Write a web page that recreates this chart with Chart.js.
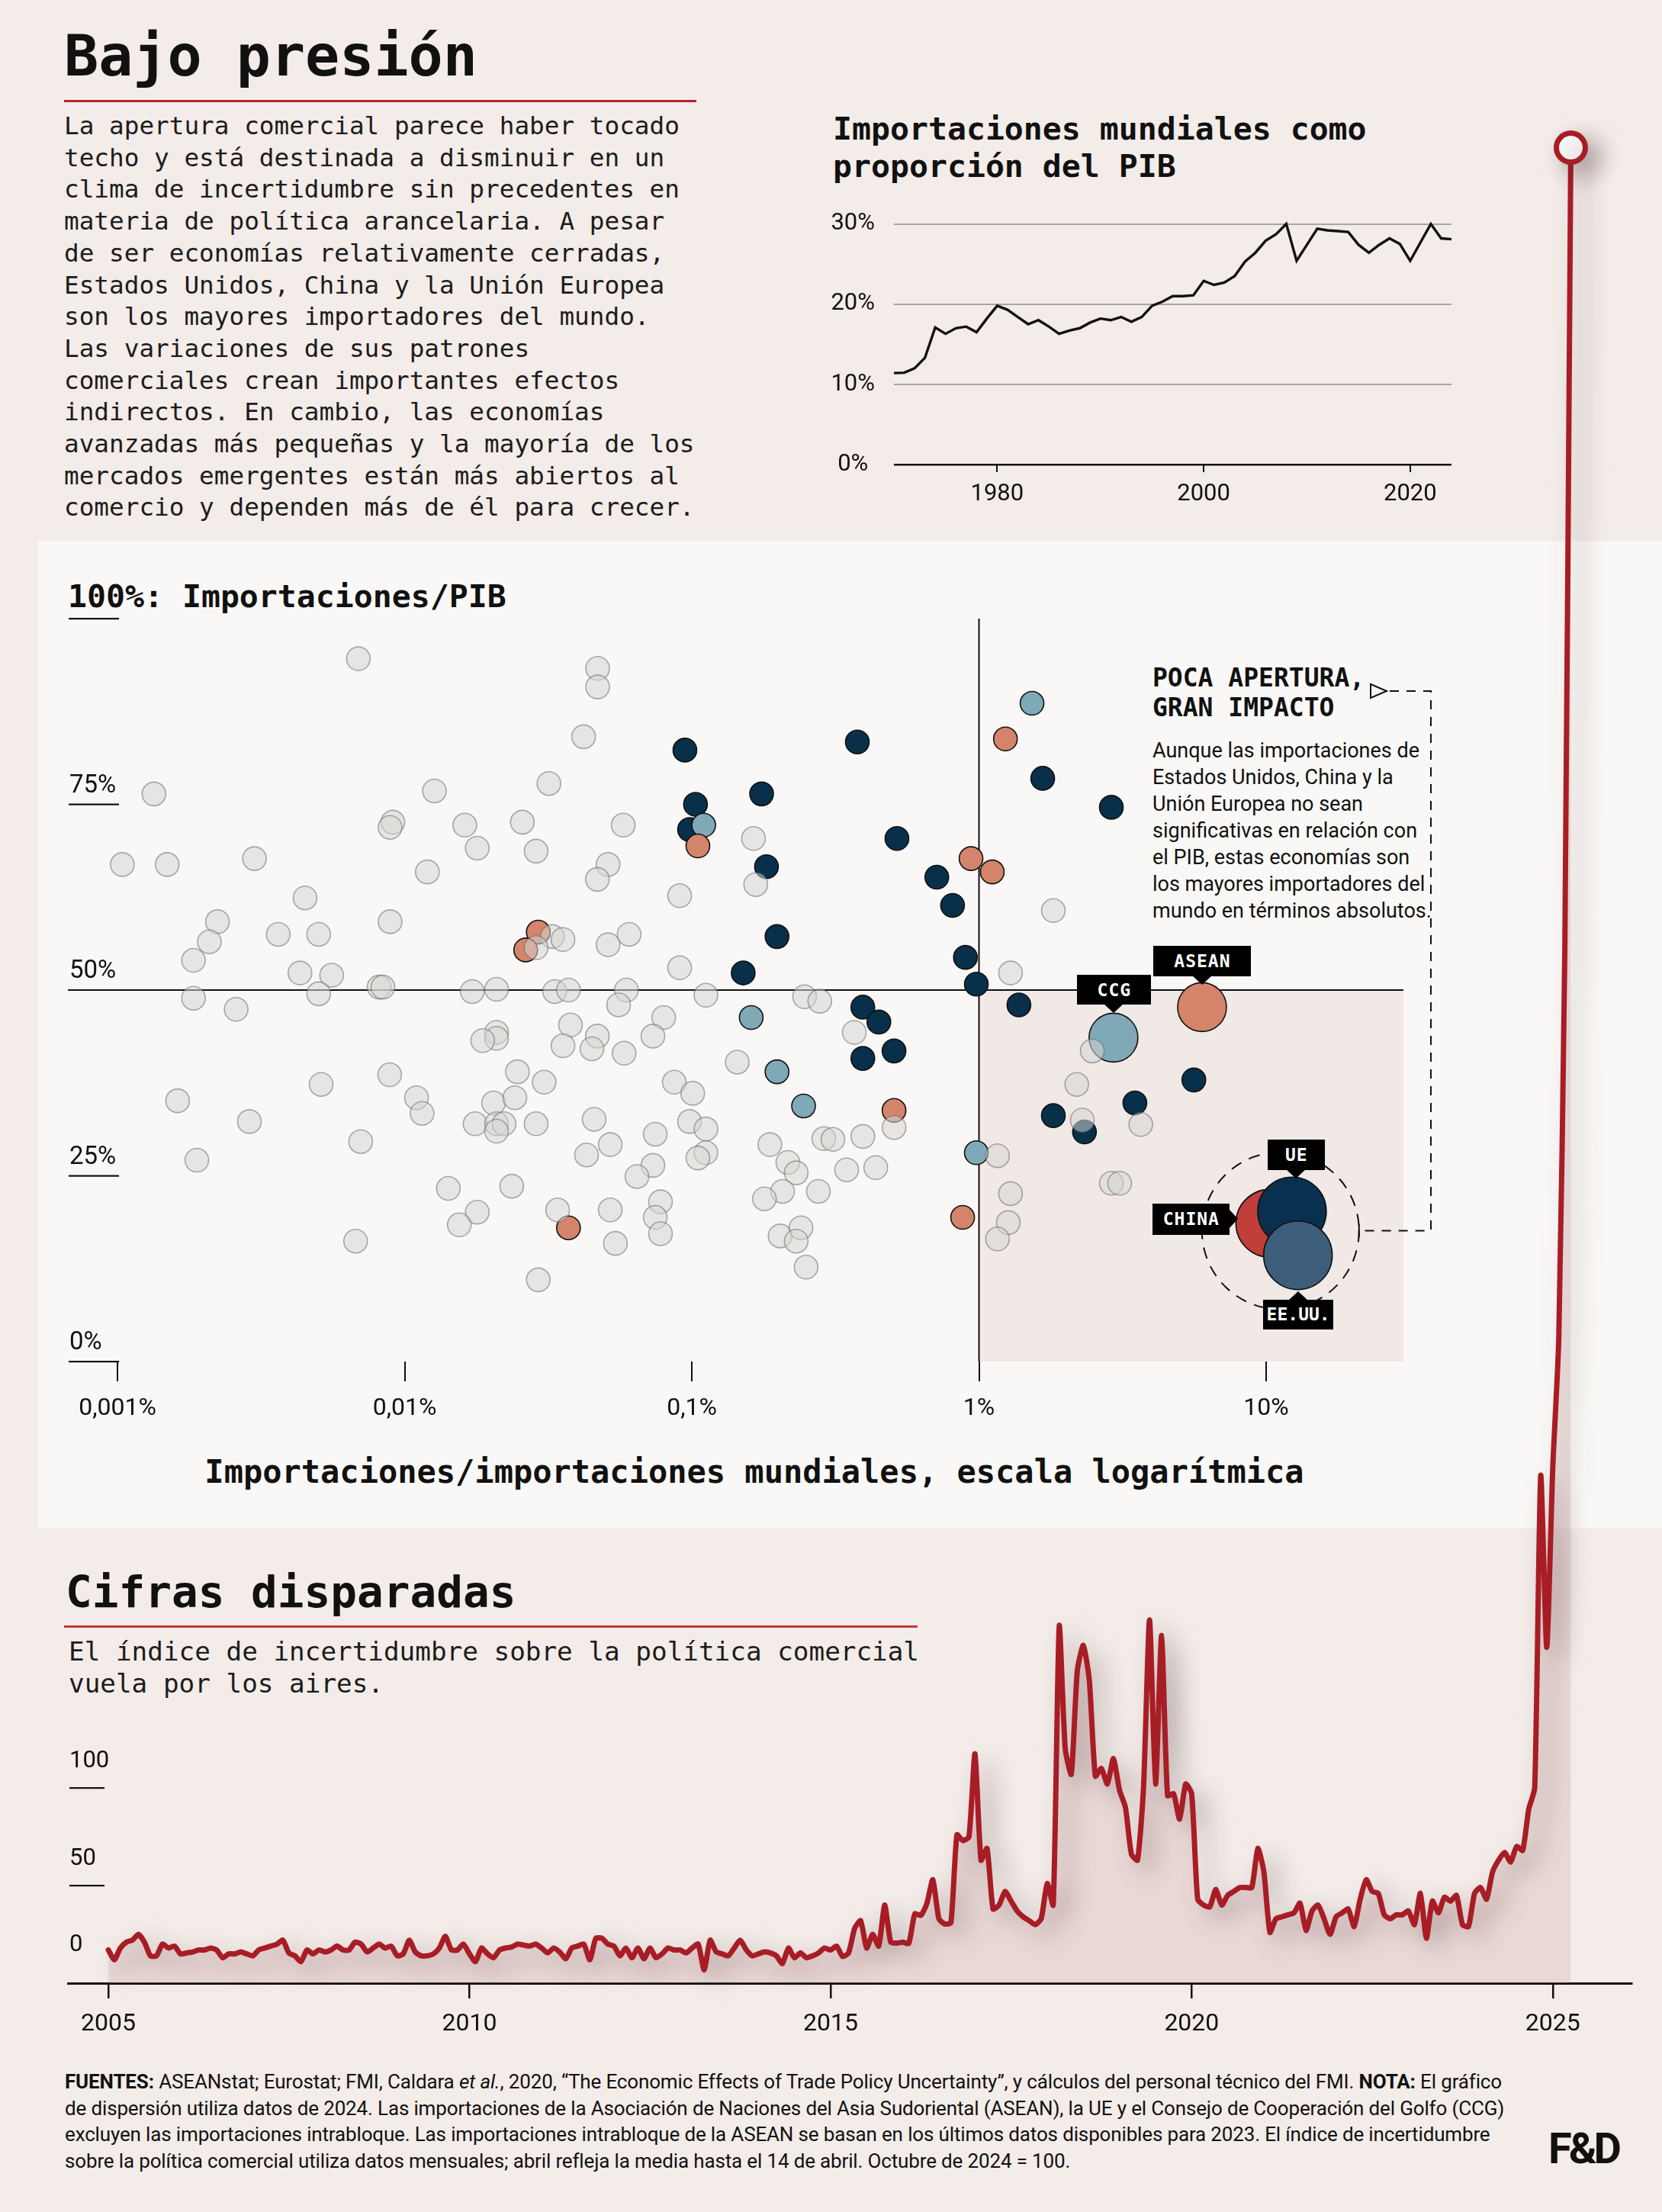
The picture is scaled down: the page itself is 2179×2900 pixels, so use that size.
<!DOCTYPE html>
<html lang="es">
<head>
<meta charset="utf-8">
<title>Bajo presión</title>
<script src="https://cdn.jsdelivr.net/npm/chart.js@4.4.1/dist/chart.umd.min.js"></script>
<style>
html,body{margin:0;padding:0;}
body{width:2179px;height:2900px;position:relative;overflow:hidden;background:#f3ece9;color:#111;font-family:'DejaVu Sans Mono',monospace;}
.abs{position:absolute;white-space:nowrap;}
#panel{left:50px;top:709px;width:2129px;height:1295px;background:#faf8f6;}
#title{left:84px;top:36px;font:bold 75px/75px 'DejaVu Sans Mono',monospace;}
#titleRule{left:84px;top:131px;width:829px;height:3px;background:#b3262b;}
#intro{left:84px;top:145px;font:32.7px/41.7px 'DejaVu Sans Mono',monospace;color:#1c1c1c;}
#lineTitle{left:1092px;top:145px;font:bold 41.5px/48.7px 'DejaVu Sans Mono',monospace;}
#scTitle{left:89px;top:757px;font:bold 41.5px/50px 'DejaVu Sans Mono',monospace;}
#annHead{left:1511px;top:869px;font:bold 33px/39.3px 'DejaVu Sans Mono',monospace;}
#annBody{left:1511px;top:967px;font:27px/35px Roboto,sans-serif;color:#111;}
#xTitle{left:0;width:1978px;top:1905px;text-align:center;font:bold 42px/50px 'DejaVu Sans Mono',monospace;}
#cifras{left:86px;top:2057px;font:bold 57.7px/60px 'DejaVu Sans Mono',monospace;}
#cifrasRule{left:84px;top:2131px;width:1119px;height:3px;background:#c0383c;}
#sub{left:90px;top:2144px;font:34.3px/42.4px 'DejaVu Sans Mono',monospace;color:#1c1c1c;}
#notes{left:85px;top:2712px;font:26px/34.7px Roboto,sans-serif;color:#111;letter-spacing:-0.15px;}
#fd{left:2030px;top:2787px;font:bold 56px/60px Roboto,sans-serif;letter-spacing:-4px;}
canvas{position:absolute;}
#scatter{left:0;top:700px;z-index:2;}
#lineTop{left:1066px;top:250px;z-index:2;}
#tpu{left:0;top:0;z-index:5;pointer-events:none;}
.tag{position:absolute;z-index:3;background:#000;color:#fff;font:bold 23px 'DejaVu Sans Mono',monospace;letter-spacing:1px;display:flex;align-items:center;justify-content:center;padding-left:1px;box-sizing:border-box;}
.tag::after{content:'';position:absolute;width:0;height:0;}
.tag.down::after{left:50%;bottom:-11px;transform:translateX(-50%);border-left:13px solid transparent;border-right:13px solid transparent;border-top:12px solid #000;}
.tag.up::after{left:50%;top:-11px;transform:translateX(-50%);border-left:13px solid transparent;border-right:13px solid transparent;border-bottom:12px solid #000;}
.tag.right::after{right:-11px;top:50%;transform:translateY(-50%);border-top:13px solid transparent;border-bottom:13px solid transparent;border-left:12px solid #000;}
</style>
</head>
<body>
<div id="panel" class="abs"></div>
<div id="title" class="abs">Bajo presión</div>
<div id="titleRule" class="abs"></div>
<div id="intro" class="abs">La apertura comercial parece haber tocado<br>techo y está destinada a disminuir en un<br>clima de incertidumbre sin precedentes en<br>materia de política arancelaria. A pesar<br>de ser economías relativamente cerradas,<br>Estados Unidos, China y la Unión Europea<br>son los mayores importadores del mundo.<br>Las variaciones de sus patrones<br>comerciales crean importantes efectos<br>indirectos. En cambio, las economías<br>avanzadas más pequeñas y la mayoría de los<br>mercados emergentes están más abiertos al<br>comercio y dependen más de él para crecer.</div>
<div id="lineTitle" class="abs">Importaciones mundiales como<br>proporción del PIB</div>
<div id="scTitle" class="abs">100%: Importaciones/PIB</div>
<div id="annHead" class="abs">POCA APERTURA,<br>GRAN IMPACTO</div>
<div id="annBody" class="abs">Aunque las importaciones de<br>Estados Unidos, China y la<br>Unión Europea no sean<br>significativas en relación con<br>el PIB, estas economías son<br>los mayores importadores del<br>mundo en términos absolutos.</div>
<div id="xTitle" class="abs">Importaciones/importaciones mundiales, escala logarítmica</div>
<div id="cifras" class="abs">Cifras disparadas</div>
<div id="cifrasRule" class="abs"></div>
<div id="sub" class="abs">El índice de incertidumbre sobre la política comercial<br>vuela por los aires.</div>
<div id="notes" class="abs"><b>FUENTES:</b> ASEANstat; Eurostat; FMI, Caldara <i>et al.</i>, 2020, “The Economic Effects of Trade Policy Uncertainty”, y cálculos del personal técnico del FMI. <b>NOTA:</b> El gráfico<br>de dispersión utiliza datos de 2024. Las importaciones de la Asociación de Naciones del Asia Sudoriental (ASEAN), la UE y el Consejo de Cooperación del Golfo (CCG)<br>excluyen las importaciones intrabloque. Las importaciones intrabloque de la ASEAN se basan en los últimos datos disponibles para 2023. El índice de incertidumbre<br>sobre la política comercial utiliza datos mensuales; abril refleja la media hasta el 14 de abril. Octubre de 2024 = 100.</div>
<div id="fd" class="abs">F&amp;D</div>

<canvas id="lineTop" width="860" height="430"></canvas>
<canvas id="scatter" width="2179" height="1310"></canvas>
<canvas id="tpu" width="2179" height="2700"></canvas>

<script>
// ================= DATA =================
// Top chart: world imports as % of GDP, annual
const importStartYear = 1970;
const importShare = [
  11.4, 11.45, 12.0, 13.3, 17.1, 16.3, 17.0, 17.2, 16.5, 18.2,
  19.8, 19.3, 18.4, 17.5, 18.0, 17.2, 16.3, 16.7, 17.0, 17.7,
  18.2, 18.0, 18.4, 17.8, 18.4, 19.8, 20.3, 21.0, 21.0, 21.1,
  22.9, 22.4, 22.7, 23.5, 25.3, 26.4, 27.9, 28.7, 30.0, 25.4,
  27.4, 29.4, 29.2, 29.1, 29.0, 27.4, 26.4, 27.4, 28.2, 27.5,
  25.4, 27.7, 30.0, 28.2, 28.1
];
const importXTicks = [1980, 2000, 2020];
const importYTicks = [0, 10, 20, 30];

// Scatter: [imports / world imports (%), imports / GDP (%)]
const otherEconomies = [
  [0.0069,94.6],[0.047,93.3],[0.047,90.8],[0.042,84.1],[0.00134,76.4],[0.0127,76.8],[0.0091,72.6],[0.0089,71.9],
  [0.0318,77.8],[0.00104,66.9],[0.00149,66.9],[0.0030,67.7],[0.0120,65.9],[0.0162,72.2],[0.0257,72.6],[0.0577,72.2],
  [0.0179,69.1],[0.0287,68.7],[0.164,70.4],[0.0511,66.9],[0.0469,64.9],[0.167,64.2],[0.0907,62.7],[0.0045,62.4],
  [0.00223,59.2],[0.00209,56.5],[0.00184,54.0],[0.00363,57.5],[0.00502,57.5],[0.0089,59.2],[0.00432,52.3],[0.00557,52.0],
  [0.00815,50.4],[0.0084,50.4],[0.0327,57.2],[0.0356,56.8],[0.0287,55.7],[0.0511,56.1],[0.0605,57.5],[0.0907,53.0],
  [1.815,60.7],[1.288,52.3],[0.00184,48.9],[0.00259,47.4],[0.00502,49.5],[0.0172,49.8],[0.0209,50.1],[0.0333,49.8],
  [0.0372,50.0],[0.0592,50.0],[0.0556,48.0],[0.112,49.3],[0.247,49.1],[0.279,48.5],[0.0798,46.3],[0.0732,43.8],
  [0.0378,45.3],[0.0469,43.8],[0.0449,42.1],[0.0356,42.5],[0.0209,44.3],[0.0209,43.5],[0.0187,43.2],[0.0581,41.5],
  [0.144,40.3],[0.0247,39.0],[0.0306,37.6],[0.0869,37.6],[0.1007,36.1],[0.0204,34.8],[0.0242,35.5],[0.0176,32.0],
  [0.0209,32.0],[0.0222,32.0],[0.0209,31.0],[0.0287,32.0],[0.0457,32.6],[0.0982,32.3],[0.112,31.3],[0.0746,30.6],
  [0.052,29.2],[0.043,27.8],[0.112,28.1],[0.105,27.4],[0.187,29.2],[0.288,30.0],[0.0732,26.4],[0.0644,24.9],
  [0.216,26.8],[0.231,25.4],[0.207,22.9],[0.179,21.9],[0.276,22.9],[0.0142,23.3],[0.0236,23.6],[0.0179,20.1],
  [0.0155,18.4],[0.0341,20.4],[0.052,20.4],[0.0778,21.5],[0.0746,19.4],[0.0778,17.2],[0.0542,15.9],[0.203,16.9],
  [0.240,18.0],[0.231,16.2],[0.250,12.7],[0.0292,11.0],[0.00162,35.1],[0.00512,37.3],[0.00887,38.6],[0.0110,35.5],
  [0.0115,33.4],[0.00288,32.3],[0.00703,29.6],[0.00189,27.1],[0.00675,16.2],[0.310,29.9],[0.394,30.3],[0.368,44.3],
  [0.506,31.5],[0.346,25.8],[0.437,26.1],[1.16,27.7],[2.89,24.0],[3.09,24.0],[1.288,22.6],[1.265,18.7],
  [1.16,16.5],[2.48,41.8],[2.19,37.3],[2.29,32.5],[3.66,31.9]
];
const orangeEconomies = [
  [0.105,69.4],[0.0292,57.8],[0.0264,55.4],[1.236,83.8],[0.938,67.7],[1.112,65.9],[0.506,33.8],[0.0372,18.0],[0.877,19.4]
];
const lightBlueEconomies = [
  [0.110,72.2],[1.53,88.6],[0.161,46.3],[0.198,39.0],[0.245,34.4],[0.979,28.1]
];
const darkBlueEconomies = [
  [0.0946,82.3],[0.103,75.0],[0.0982,71.6],[0.175,76.4],[0.182,66.6],[0.198,57.2],[0.151,52.3],[0.377,83.4],
  [1.667,78.5],[2.89,74.6],[0.518,70.4],[0.713,65.2],[0.809,61.4],[0.897,54.4],[0.979,50.8],[1.377,48.0],
  [0.394,47.7],[0.448,45.7],[0.506,41.8],[0.394,40.8],[5.60,37.9],[3.49,34.8],[1.815,33.1],[2.33,30.9]
];
const bigLabels = ['ASEAN', 'CCG', 'CHINA', 'UE', 'EE.UU.'];
const bigPoints = [[5.98,47.7],[2.94,43.6],[10.3,18.6],[12.3,20.2],[12.9,14.3]];
const scatterXTicks = [0.001, 0.01, 0.1, 1, 10];
const scatterYLabels = [100, 75, 50, 25, 0];

// Bottom chart: trade policy uncertainty index, monthly from Jan 2005 to Apr 2025 (Oct 2024 = 100)
const tpuStartYear = 2005;
const tpu2005to2014 = [
  17,12,18,21,22,25,21,14,14,20, 18,19,15,15.5,16,17,17,18,17,13,
  15,15,16,15,14,17,18,19,20,22, 15.5,14,11,17,15,17,16,17,19,17,
  17,21,20,16,18,20,18,19,14,15, 22,16,14,14,15,18,24,17,17,20,
  15,11,18,15,13,17,18,18.5,20,19.5, 19,20,18,15.5,18,16,12.5,18,19,20,
  12,23,23,20,19,14,18,13,18,12.5, 18,13,15,18,17,17,15.5,18,20,6.8,
  22,16,15,14,18,22,17,14,15,16, 15.5,14,10,18,13,15.5,13,14,15.5,18
];
const tpu2015to2025 = [
  17,19,13.7,15.5,28,32,18,25,19,40, 21,20.5,21,20.4,35.5,34.7,40.8,53,33,30.3,
  31,76,73,75,117.5,63,69,38,40,47, 42,37,34,32,30,33,51,40,183,120,
  107,160,173,155,106,110,102,115,99,90, 66,63,100,186,102,178,96,97,84,102,
  97,43,40,39,48,40,45,47,49,49, 49,69,57,26,33,34,35,36,41,27,
  37,40,33,25,34,36,38,29,43,53, 47,46,35,33,35,35,37,30,46,23,
  42,36,44,42,45,30,29,46,49,43, 57,63,67,62,70,68,89,100,260,172,
  264,330,528,940
];
const tpuXTicks = [2005, 2010, 2015, 2020, 2025];
const tpuYLabels = [100, 50, 0];

// ================= CHARTS =================
Chart.defaults.font.family = 'Roboto, sans-serif';
Chart.defaults.color = '#111';

// ---- Top line chart ----
new Chart(document.getElementById('lineTop'), {
  type: 'line',
  data: {
    datasets: [{
      data: importShare.map((v, i) => ({ x: importStartYear + i, y: v })),
      borderColor: '#111', borderWidth: 3.4, pointRadius: 0, tension: 0, fill: false, clip: false
    }]
  },
  options: {
    responsive: false, animation: false, events: [],
    layout: { padding: { top: 40.6, right: 23, bottom: 0, left: 0 } },
    plugins: { legend: { display: false }, tooltip: { enabled: false } },
    scales: {
      x: {
        type: 'linear', min: importStartYear, max: importStartYear + importShare.length - 1,
        afterBuildTicks: s => { s.ticks = importXTicks.map(v => ({ value: v })); },
        afterFit: s => { s.height = 71; },
        ticks: { callback: v => String(v), font: { size: 31 }, padding: 11, autoSkip: false, maxRotation: 0 },
        grid: { drawOnChartArea: false, drawTicks: true, tickLength: 10, color: '#111', lineWidth: 2 },
        border: { display: false }
      },
      y: {
        type: 'linear', min: 0, max: 30,
        afterBuildTicks: s => { s.ticks = importYTicks.map(v => ({ value: v })); },
        afterFit: s => { s.width = 106; },
        ticks: { callback: v => v + '%', font: { size: 31 }, crossAlign: 'center', padding: 25 },
        grid: { drawTicks: false, color: c => c.tick.value === 0 ? '#111' : '#a6a6a6', lineWidth: c => c.tick.value === 0 ? 2.5 : 2 },
        border: { display: false }
      }
    }
  }
});

// ---- Scatter ----
const SC_LEFT = 0, SC_TOP = 700;
const toXY = a => a.map(([x, y]) => ({ x, y }));
const scatterDecor = {
  id: 'scatterDecor',
  beforeDatasetsDraw(chart) {
    const { ctx, chartArea: a, scales: { x, y } } = chart;
    ctx.save();
    const x1 = x.getPixelForValue(1), y50 = y.getPixelForValue(50), y0 = y.getPixelForValue(0);
    ctx.fillStyle = '#f1e9e6';
    ctx.fillRect(x1, y50, a.right - x1, y0 - y50);
    ctx.fillStyle = '#111';
    ctx.fillRect(a.left, y50 - 1, a.right - a.left, 2);
    ctx.fillRect(x1 - 1, a.top, 2, a.bottom - a.top);
    ctx.font = '33px Roboto, sans-serif';
    ctx.textAlign = 'left'; ctx.textBaseline = 'alphabetic';
    scatterYLabels.forEach(v => {
      const py = y.getPixelForValue(v);
      if (v !== 100) ctx.fillText(v + '%', a.left + 2, py - 16);
      if (v !== 50) ctx.fillRect(a.left + 1, py - 1, 66, 2.2);
    });
    ctx.restore();
  },
  afterDatasetsDraw(chart) {
    const { ctx, scales: { x, y } } = chart;
    const big = [2, 3, 4].map(i => [x.getPixelForValue(bigPoints[i][0]), y.getPixelForValue(bigPoints[i][1])]);
    const cx = big.reduce((s, p) => s + p[0], 0) / 3 - 8;
    const cy = big.reduce((s, p) => s + p[1], 0) / 3 + 1;
    const r = 103;
    ctx.save();
    ctx.strokeStyle = '#111'; ctx.lineWidth = 2;
    ctx.setLineDash([15, 11]);
    ctx.beginPath(); ctx.arc(cx, cy, r, 0, Math.PI * 2); ctx.stroke();
    // connector from annotation
    const ty = 906 - SC_TOP, rx = 1876;
    ctx.setLineDash([12, 10]);
    ctx.beginPath();
    ctx.moveTo(1822, ty); ctx.lineTo(rx, ty); ctx.lineTo(rx, cy); ctx.lineTo(cx + r, cy);
    ctx.stroke();
    ctx.setLineDash([]);
    ctx.beginPath(); ctx.moveTo(cx + r, cy - 9); ctx.lineTo(cx + r, cy + 9); ctx.stroke();
    ctx.beginPath();
    ctx.moveTo(1797, ty - 9); ctx.lineTo(1818, ty); ctx.lineTo(1797, ty + 9); ctx.closePath();
    ctx.fillStyle = '#faf8f6'; ctx.fill(); ctx.stroke();
    ctx.restore();
  }
};

const scatterChart = new Chart(document.getElementById('scatter'), {
  type: 'scatter',
  data: {
    datasets: [
      { data: toXY(otherEconomies), pointRadius: 15.5, backgroundColor: 'rgba(214,213,212,0.55)', borderColor: 'rgba(105,105,105,0.55)', borderWidth: 1.6 },
      { data: toXY(orangeEconomies), pointRadius: 15.5, backgroundColor: '#d4846b', borderColor: '#111', borderWidth: 1.6 },
      { data: toXY(lightBlueEconomies), pointRadius: 15.5, backgroundColor: '#7fa9b7', borderColor: '#111', borderWidth: 1.6 },
      { data: toXY(darkBlueEconomies), pointRadius: 15.5, backgroundColor: '#08304a', borderColor: '#111', borderWidth: 1.6 },
      { data: toXY(bigPoints), pointRadius: [32, 32, 44.5, 45, 45],
        backgroundColor: ['#d4846b', '#7fa9b7', '#c13e3b', '#0a3050', '#3d5e7b'], borderColor: '#111', borderWidth: 1.6 }
    ]
  },
  options: {
    responsive: false, animation: false, events: [],
    layout: { padding: { top: 111, right: 339, bottom: 125, left: 89 } },
    plugins: { legend: { display: false }, tooltip: { enabled: false } },
    scales: {
      x: {
        type: 'logarithmic', min: 0.000672, max: 30.06,
        afterBuildTicks: s => { s.ticks = scatterXTicks.map(v => ({ value: v })); },
        afterFit: s => { s.height = 100; },
        ticks: { callback: v => String(v).replace('.', ',') + '%', font: { size: 32 }, padding: 17, autoSkip: false, maxRotation: 0, minRotation: 0 },
        grid: { drawOnChartArea: false, drawTicks: true, tickLength: 26, color: '#111', lineWidth: 2 },
        border: { display: false }
      },
      y: { type: 'linear', min: 0, max: 100, display: false }
    }
  },
  plugins: [scatterDecor]
});

// Label tags attached to the big bubbles
const tagLayout = {
  'ASEAN': { w: 128, h: 40, dir: 'down', dx: -64, dy: -80 },
  'CCG':   { w: 97, h: 39, dir: 'down', dx: -48, dy: -82 },
  'CHINA': { w: 101, h: 41, dir: 'right', dx: -154, dy: -26 },
  'UE':    { w: 75, h: 40, dir: 'down', dx: -32, dy: -94 },
  'EE.UU.':{ w: 92, h: 39, dir: 'up', dx: -46, dy: 58 }
};
bigLabels.forEach((lab, i) => {
  const L = tagLayout[lab];
  const px = scatterChart.scales.x.getPixelForValue(bigPoints[i][0]) + SC_LEFT;
  const py = scatterChart.scales.y.getPixelForValue(bigPoints[i][1]) + SC_TOP;
  const d = document.createElement('div');
  d.className = 'tag ' + L.dir;
  d.textContent = lab;
  d.style.left = (px + L.dx) + 'px';
  d.style.top = (py + L.dy) + 'px';
  d.style.width = L.w + 'px';
  d.style.height = L.h + 'px';
  if (lab === 'EE.UU.') d.style.letterSpacing = '0px';
  document.body.appendChild(d);
});

// ---- Bottom chart: trade policy uncertainty ----
const tpuValues = tpu2005to2014.concat(tpu2015to2025);
const lastIdx = tpuValues.length - 1;
const lineShadow = {
  id: 'lineShadow',
  beforeDatasetDraw(chart) {
    const c = chart.ctx; c.save();
    c.shadowColor = 'rgba(60,35,35,0.38)'; c.shadowBlur = 32; c.shadowOffsetX = 15; c.shadowOffsetY = 12;
  },
  afterDatasetDraw(chart) { chart.ctx.restore(); }
};
const tpuYAxisLabels = {
  id: 'tpuYAxisLabels',
  afterDraw(chart) {
    const { ctx, chartArea: a, scales: { y } } = chart;
    ctx.save();
    ctx.fillStyle = '#111';
    ctx.font = '31px Roboto, sans-serif';
    ctx.textAlign = 'left'; ctx.textBaseline = 'alphabetic';
    tpuYLabels.forEach(v => {
      const py = y.getPixelForValue(v);
      ctx.fillText(String(v), a.left + 2, py - (v === 0 ? 42 : 27));
      if (v !== 0) ctx.fillRect(a.left + 2, py - 1, 46, 2.2);
    });
    ctx.restore();
  }
};
new Chart(document.getElementById('tpu'), {
  type: 'line',
  data: {
    datasets: [{
      data: tpuValues.map((v, i) => ({ x: tpuStartYear + i / 12, y: v })),
      borderColor: '#a81d25', borderWidth: 7, tension: 0.2, borderJoinStyle: 'round', borderCapStyle: 'round',
      fill: 'origin', backgroundColor: 'rgba(206,160,158,0.26)',
      pointRadius: c => c.dataIndex === lastIdx ? 19 : 0,
      pointBackgroundColor: '#ffffff', pointBorderColor: '#a81d25', pointBorderWidth: 7,
      clip: false
    }]
  },
  options: {
    responsive: false, animation: false, events: [],
    layout: { padding: { top: 40, right: 40, bottom: 0, left: 89 } },
    plugins: { legend: { display: false }, tooltip: { enabled: false } },
    scales: {
      x: {
        type: 'linear', min: 2004.44, max: 2026.09,
        afterBuildTicks: s => { s.ticks = tpuXTicks.map(v => ({ value: v })); },
        afterFit: s => { s.height = 100; },
        ticks: { callback: v => String(v), font: { size: 32 }, padding: 15, autoSkip: false, maxRotation: 0 },
        grid: { drawOnChartArea: false, drawTicks: true, tickLength: 20, color: '#111', lineWidth: 2.5 },
        border: { display: true, color: '#111', width: 3 }
      },
      y: { type: 'linear', min: 0, max: 1000, display: false }
    }
  },
  plugins: [lineShadow, tpuYAxisLabels]
});
</script>
</body>
</html>
